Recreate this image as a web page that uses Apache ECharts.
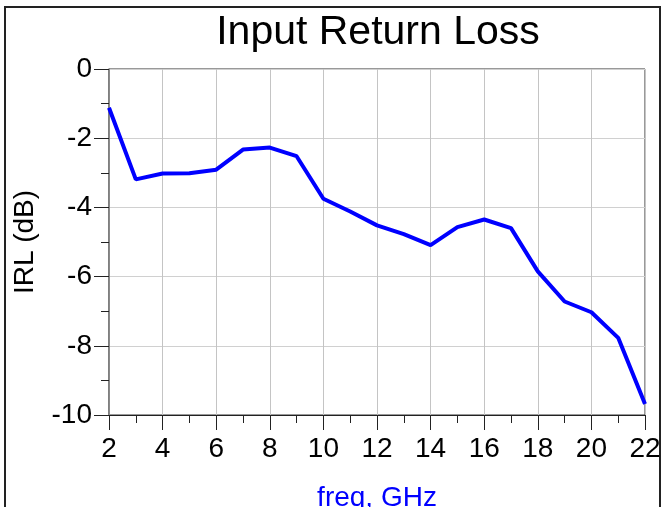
<!DOCTYPE html>
<html>
<head>
<meta charset="utf-8">
<script src="https://cdn.jsdelivr.net/npm/echarts@6/dist/echarts.min.js"></script>
<style>
  html, body { margin: 0; padding: 0; background: #fff; }
  #chart { width: 662px; height: 507px; }
</style>
</head>
<body>
<div id="chart"></div>
<script>
// values
const freq = [2, 3, 4, 5, 6, 7, 8, 9, 10, 11, 12, 13, 14, 15, 16, 17, 18, 19, 20, 21, 22]
const irl = [-1.12, -3.19, -3.02, -3.01, -2.91, -2.33, -2.27, -2.52, -3.75, -4.12, -4.52, -4.77, -5.09,
  -4.57, -4.35, -4.6, -5.85, -6.72, -7.03, -7.77, -9.68]
const xTicks = [2, 22, 2]   // min, max, step
const yTicks = [-10, 0, 2]

const font = '"Liberation Sans", Arial, sans-serif'
const chart = echarts.init(document.getElementById('chart'))

chart.setOption({
  animation: false,
  backgroundColor: '#fff',
  title: {
    text: 'Input Return Loss',
    left: 373,
    top: 7,
    textAlign: 'center',
    textStyle: { fontFamily: font, fontSize: 41, fontWeight: 'normal', color: '#000' },
  },
  graphic: [
    {
      type: 'rect',
      shape: { x: 5, y: 7, width: 655, height: 520 },
      style: { fill: 'none', stroke: '#222', lineWidth: 2 },
      silent: true,
    },
  ],
  grid: {
    left: 109, right: 17, top: 69, bottom: 92,
    outerBoundsMode: 'none',
    containLabel: false,
    show: true, borderColor: '#333', borderWidth: 1, backgroundColor: 'transparent',
  },
  xAxis: {
    type: 'value',
    min: xTicks[0], max: xTicks[1], interval: xTicks[2],
    name: 'freq, GHz',
    nameLocation: 'middle',
    nameGap: 69,
    nameTextStyle: { fontFamily: font, fontSize: 28, color: '#0000ff' },
    axisLine: { show: true, onZero: false, lineStyle: { color: '#222', width: 1 } },
    axisTick: { show: true, inside: false, length: 15, lineStyle: { color: '#222' } },
    minorTick: { show: true, splitNumber: 2, length: 8, lineStyle: { color: '#222' } },
    axisLabel: { fontFamily: font, fontSize: 28, color: '#000', margin: 20 },
    splitLine: { show: true, lineStyle: { color: '#c4c4c4', width: 1 } },
  },
  yAxis: {
    type: 'value',
    min: yTicks[0], max: yTicks[1], interval: yTicks[2],
    name: 'IRL (dB)',
    nameLocation: 'middle',
    nameGap: 70,
    nameRotate: 90,
    nameTextStyle: { fontFamily: font, fontSize: 28, color: '#000' },
    axisLine: { show: true, onZero: false, lineStyle: { color: '#777', width: 1.5 } },
    axisTick: { show: true, inside: false, length: 15, lineStyle: { color: '#222' } },
    minorTick: { show: true, splitNumber: 2, length: 8, lineStyle: { color: '#222' } },
    axisLabel: { fontFamily: font, fontSize: 28, color: '#000', margin: 17 },
    splitLine: { show: true, lineStyle: { color: '#d0d0d0', width: 1 } },
  },
  series: [
    {
      type: 'line',
      data: freq.map((f, i) => [f, irl[i]]),
      symbol: 'none',
      lineStyle: { color: '#0000ff', width: 4 },
      clip: false,
    },
  ],
})
</script>
</body>
</html>
